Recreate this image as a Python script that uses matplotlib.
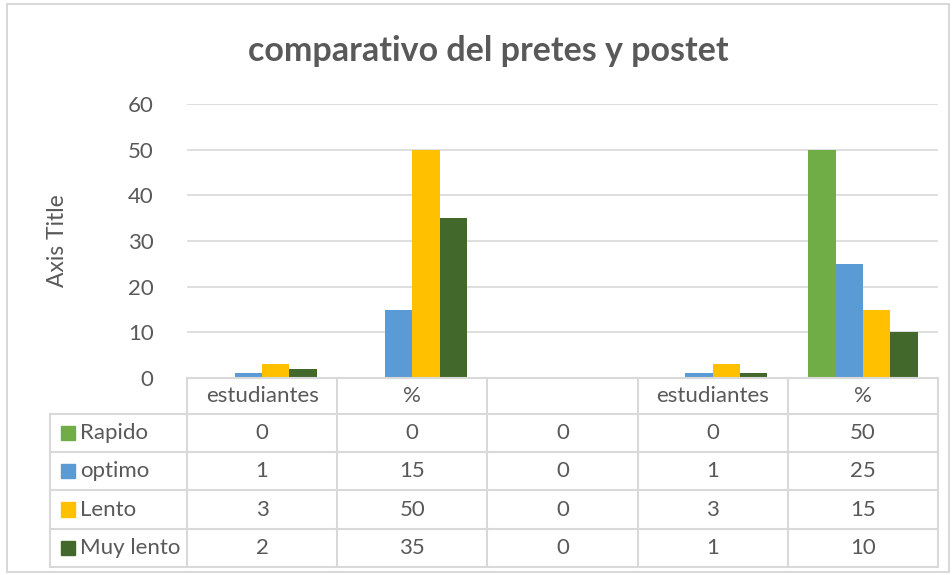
import numpy as np
import matplotlib.pyplot as plt
from matplotlib.patches import Rectangle
from matplotlib.lines import Line2D

categories = ["estudiantes", "%", "", "estudiantes", "%"]
series_names = ["Rapido", "optimo", "Lento", "Muy lento"]
rapido = [0, 0, 0, 0, 50]
optimo = [1, 15, 0, 1, 25]
lento = [3, 50, 0, 3, 15]
muy_lento = [2, 35, 0, 1, 10]
colors = ["#70AD47", "#5B9BD5", "#FFC000", "#43682B"]

series = [rapido, optimo, lento, muy_lento]
W, H = 952, 575
plt.rcParams['font.family'] = ['Lato', 'DejaVu Sans']
txt = "#595959"
grid = "#D9D9D9"
fs = 16

fig = plt.figure(figsize=(W / 100, H / 100), dpi=100)

# plot area in pixel coords
x0, x1 = 187, 938
y_top, y_zero = 104, 378


def fx(px):
    return px / W


def fy(py):
    return 1 - py / H


ax = fig.add_axes([fx(x0), fy(y_zero), fx(x1) - fx(x0), fy(y_top) - fy(y_zero)])
n = len(categories)
x = np.arange(n)
bw = 1 / 5.5
for i, (vals, c) in enumerate(zip(series, colors)):
    ax.bar(x + (i - 1.5) * bw, vals, width=bw, color=c, label=series_names[i])
ax.set_xlim(-0.5, n - 0.5)
ax.set_ylim(0, 60)
ax.set_yticks(range(0, 61, 10))
ax.yaxis.grid(True, color=grid, lw=1.2)
ax.set_axisbelow(True)
for s in ax.spines.values():
    s.set_visible(False)
ax.tick_params(axis='y', length=0, labelsize=fs, labelcolor=txt, pad=24)
ax.set_xticks([])
ax.set_ylabel("Axis Title", fontsize=16.5, color=txt)
ax.yaxis.set_label_coords((68 - x0) / (x1 - x0), 0.5)

fig.suptitle("comparativo del pretes y postet", x=fx(488), y=fy(51), va='center',
             fontsize=24.5, fontweight='bold', color=txt)

# data table
col_edges = [x0 + (x1 - x0) * k / n for k in range(n + 1)]
row_edges = [378, 414, 452, 490, 529, 567]
leg_left = 50


def hline(py, xa, xb):
    fig.add_artist(Line2D([fx(xa), fx(xb)], [fy(py), fy(py)], color=grid, lw=1.5))


def vline(px, ya, yb):
    fig.add_artist(Line2D([fx(px), fx(px)], [fy(ya), fy(yb)], color=grid, lw=1.5))


hline(row_edges[0], x0, x1)
for py in row_edges[1:]:
    hline(py, leg_left, x1)
for px in col_edges:
    vline(px, row_edges[0], row_edges[-1])
vline(leg_left, row_edges[1], row_edges[-1])

for k, cat in enumerate(categories):
    cx = (col_edges[k] + col_edges[k + 1]) / 2
    fig.text(fx(cx), fy((row_edges[0] + row_edges[1]) / 2), cat, ha='center', va='center',
             fontsize=fs, color=txt)

for r, (name, vals, c) in enumerate(zip(series_names, series, colors)):
    cy = (row_edges[r + 1] + row_edges[r + 2]) / 2
    fig.add_artist(Rectangle((fx(61), fy(cy + 7)), fx(14), fy(cy - 7) - fy(cy + 7),
                             color=c, transform=fig.transFigure))
    fig.text(fx(80), fy(cy), name, ha='left', va='center', fontsize=fs, color=txt)
    for k, v in enumerate(vals):
        cx = (col_edges[k] + col_edges[k + 1]) / 2
        fig.text(fx(cx), fy(cy), str(v), ha='center', va='center', fontsize=fs, color=txt)

# chart frame
fig.add_artist(Rectangle((fx(7), fy(572)), fx(W - 3) - fx(7), fy(4) - fy(572),
                         fill=False, ec=grid, lw=1.5, transform=fig.transFigure))

fig.savefig("out.png", dpi=100)
